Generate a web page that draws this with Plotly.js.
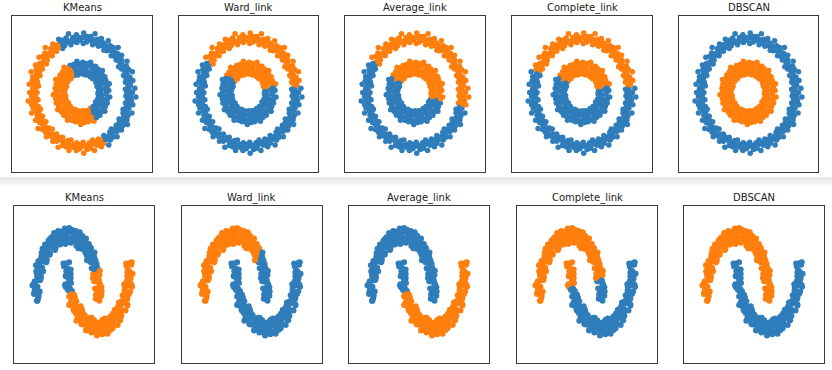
<!DOCTYPE html>
<html>
<head>
<meta charset="utf-8">
<script src="https://cdn.plot.ly/plotly-3.0.1.min.js"></script>
<style>html,body{margin:0;padding:0;background:#fff;}#chart{width:832px;height:370px;}</style>
</head>
<body>
<div id="chart"></div>
<script>
// ---------- titles ----------
const titles = ['KMeans', 'Ward_link', 'Average_link', 'Complete_link', 'DBSCAN'];

// ---------- circles dataset (outer ring, inner ring), ordered by angle ----------
const outerX = [0.92,1.03,0.89,1.08,0.94,0.99,0.89,1.04,0.90,0.98,0.85,1.03,0.88,0.95,0.81,0.91,0.75,0.92,0.77,0.81,
0.70,0.81,0.68,0.73,0.60,0.74,0.59,0.64,0.51,0.58,0.45,0.54,0.42,0.44,0.34,0.40,0.29,0.32,0.22,0.27,
0.17,0.18,0.10,0.11,0.03,0.04,-0.03,-0.04,-0.10,-0.11,-0.16,-0.18,-0.22,-0.27,-0.30,-0.32,-0.35,-0.39,-0.39,-0.47,
-0.48,-0.50,-0.51,-0.59,-0.58,-0.63,-0.60,-0.74,-0.69,-0.75,-0.70,-0.79,-0.72,-0.87,-0.81,-0.85,-0.80,-0.94,-0.86,-0.93,
-0.85,-1.03,-0.92,-1.00,-0.90,-1.01,-0.88,-1.07,-0.95,-1.00,-0.91,-1.06,-0.94,-1.02,-0.89,-1.09,-0.94,-1.02,-0.88,-0.99,
-0.84,-1.02,-0.87,-0.91,-0.80,-0.94,-0.80,-0.86,-0.73,-0.89,-0.74,-0.80,-0.66,-0.74,-0.60,-0.72,-0.59,-0.62,-0.51,-0.59,
-0.47,-0.51,-0.39,-0.48,-0.36,-0.39,-0.28,-0.32,-0.22,-0.26,-0.17,-0.17,-0.10,-0.11,-0.03,-0.04,0.03,0.04,0.10,0.11,
0.16,0.18,0.22,0.26,0.29,0.31,0.34,0.40,0.41,0.45,0.45,0.55,0.54,0.58,0.57,0.63,0.60,0.72,0.68,0.72,
0.70,0.81,0.76,0.83,0.76,0.93,0.85,0.92,0.84,0.94,0.84,1.02,0.91,0.96,0.89,1.04,0.93,1.01,0.90,1.10];
const outerY = [0.00,0.00,0.06,0.08,0.13,0.14,0.19,0.22,0.26,0.28,0.31,0.38,0.39,0.42,0.43,0.48,0.47,0.57,0.56,0.59,
0.59,0.68,0.65,0.71,0.67,0.82,0.76,0.82,0.76,0.85,0.77,0.94,0.85,0.90,0.84,0.98,0.89,0.97,0.87,1.07,
0.95,1.02,0.92,1.02,0.89,1.08,0.95,1.00,0.91,1.05,0.93,1.00,0.87,1.07,0.91,0.99,0.85,0.95,0.80,0.97,
0.82,0.87,0.75,0.88,0.74,0.80,0.67,0.82,0.67,0.72,0.59,0.66,0.52,0.64,0.50,0.53,0.43,0.50,0.38,0.42,
0.31,0.38,0.26,0.29,0.19,0.21,0.12,0.15,0.07,0.07,0.00,0.00,-0.07,-0.07,-0.13,-0.15,-0.20,-0.22,-0.25,-0.28,
-0.30,-0.37,-0.39,-0.41,-0.43,-0.50,-0.50,-0.54,-0.53,-0.65,-0.62,-0.67,-0.64,-0.72,-0.66,-0.80,-0.75,-0.79,-0.75,-0.88,
-0.81,-0.88,-0.81,-0.99,-0.89,-0.96,-0.87,-0.98,-0.86,-1.05,-0.94,-0.99,-0.91,-1.05,-0.94,-1.02,-0.90,-1.10,-0.96,-1.03,
-0.91,-1.01,-0.86,-1.05,-0.90,-0.95,-0.84,-0.98,-0.85,-0.92,-0.78,-0.95,-0.80,-0.86,-0.72,-0.81,-0.66,-0.80,-0.66,-0.70,
-0.59,-0.68,-0.55,-0.60,-0.48,-0.58,-0.45,-0.49,-0.37,-0.42,-0.30,-0.37,-0.26,-0.28,-0.19,-0.22,-0.13,-0.14,-0.06,-0.08];
// middle of the outer ring, one point per angle step
const outerMidX = [0.98,0.96,0.99,0.95,0.95,0.92,0.88,0.88,0.82,0.80,
0.75,0.69,0.67,0.60,0.55,0.49,0.42,0.38,0.30,0.24,
0.17,0.10,0.04,-0.03,-0.10,-0.17,-0.23,-0.31,-0.36,-0.43,
-0.49,-0.54,-0.62,-0.65,-0.71,-0.75,-0.78,-0.85,-0.86,-0.90,
-0.92,-0.92,-0.98,-0.96,-0.99,-0.98,-0.96,-0.99,-0.95,-0.95,
-0.92,-0.88,-0.88,-0.82,-0.80,-0.75,-0.69,-0.67,-0.60,-0.55,
-0.49,-0.42,-0.38,-0.30,-0.24,-0.17,-0.10,-0.04,0.03,0.10,
0.17,0.23,0.31,0.36,0.43,0.49,0.54,0.62,0.65,0.71,
0.75,0.78,0.85,0.86,0.90,0.92,0.92,0.98,0.96,0.99];
const outerMidY = [0.00,0.07,0.14,0.20,0.27,0.34,0.39,0.47,0.51,0.58,
0.63,0.67,0.74,0.76,0.82,0.85,0.86,0.93,0.92,0.96,
0.97,0.96,1.00,0.97,0.99,0.97,0.93,0.95,0.90,0.89,
0.85,0.80,0.79,0.72,0.69,0.63,0.56,0.53,0.45,0.40,
0.34,0.26,0.21,0.13,0.07,0.00,-0.07,-0.14,-0.20,-0.27,
-0.34,-0.39,-0.47,-0.51,-0.58,-0.63,-0.67,-0.74,-0.76,-0.82,
-0.85,-0.86,-0.93,-0.92,-0.96,-0.97,-0.96,-1.00,-0.97,-0.99,
-0.97,-0.93,-0.95,-0.90,-0.89,-0.85,-0.80,-0.79,-0.72,-0.69,
-0.63,-0.56,-0.53,-0.45,-0.40,-0.34,-0.26,-0.21,-0.13,-0.07];
const innerX = [0.38,0.50,0.34,0.55,0.41,0.47,0.35,0.52,0.38,0.56,0.31,0.46,0.39,0.49,0.34,0.44,0.29,0.47,0.33,0.38,
0.28,0.41,0.29,0.42,0.22,0.33,0.26,0.33,0.21,0.28,0.17,0.28,0.18,0.21,0.14,0.20,0.12,0.18,0.08,0.12,
0.07,0.09,0.04,0.05,0.01,0.02,-0.01,-0.02,-0.04,-0.06,-0.07,-0.10,-0.08,-0.12,-0.13,-0.17,-0.14,-0.19,-0.15,-0.24,
-0.21,-0.24,-0.20,-0.30,-0.25,-0.36,-0.22,-0.33,-0.31,-0.39,-0.29,-0.38,-0.28,-0.44,-0.35,-0.40,-0.32,-0.47,-0.37,-0.53,
-0.31,-0.46,-0.41,-0.52,-0.37,-0.49,-0.34,-0.54,-0.41,-0.47,-0.36,-0.53,-0.40,-0.58,-0.33,-0.49,-0.42,-0.53,-0.37,-0.48,
-0.32,-0.52,-0.37,-0.43,-0.32,-0.47,-0.34,-0.49,-0.27,-0.40,-0.33,-0.41,-0.27,-0.36,-0.23,-0.37,-0.25,-0.29,-0.20,-0.30,
-0.20,-0.29,-0.14,-0.21,-0.16,-0.20,-0.12,-0.15,-0.08,-0.13,-0.07,-0.08,-0.04,-0.06,-0.01,-0.02,0.01,0.02,0.05,0.06,
0.07,0.09,0.08,0.13,0.13,0.15,0.14,0.20,0.18,0.25,0.17,0.25,0.24,0.30,0.23,0.31,0.23,0.37,0.29,0.34,
0.28,0.41,0.32,0.47,0.28,0.42,0.38,0.48,0.35,0.46,0.32,0.52,0.39,0.45,0.35,0.52,0.40,0.57,0.33,0.49];
const innerY = [0.00,0.00,0.02,0.04,0.06,0.07,0.07,0.11,0.11,0.16,0.11,0.17,0.18,0.22,0.18,0.23,0.18,0.29,0.24,0.28,
0.23,0.34,0.28,0.40,0.25,0.36,0.34,0.43,0.32,0.41,0.29,0.48,0.37,0.42,0.33,0.49,0.38,0.55,0.32,0.48,
0.42,0.53,0.38,0.50,0.34,0.55,0.41,0.47,0.36,0.53,0.39,0.57,0.32,0.48,0.41,0.51,0.35,0.46,0.31,0.49,
0.36,0.41,0.30,0.44,0.32,0.46,0.25,0.36,0.30,0.38,0.24,0.32,0.20,0.32,0.22,0.25,0.17,0.25,0.16,0.24,
0.11,0.17,0.12,0.15,0.08,0.10,0.05,0.08,0.03,0.03,0.00,0.00,-0.03,-0.04,-0.05,-0.07,-0.09,-0.11,-0.10,-0.14,
-0.12,-0.19,-0.17,-0.19,-0.17,-0.25,-0.21,-0.31,-0.19,-0.29,-0.28,-0.35,-0.26,-0.35,-0.25,-0.41,-0.32,-0.37,-0.30,-0.44,
-0.35,-0.50,-0.30,-0.44,-0.40,-0.50,-0.36,-0.48,-0.33,-0.53,-0.40,-0.46,-0.36,-0.53,-0.40,-0.58,-0.33,-0.49,-0.43,-0.54,
-0.37,-0.49,-0.33,-0.53,-0.39,-0.45,-0.33,-0.49,-0.36,-0.52,-0.29,-0.42,-0.36,-0.45,-0.30,-0.39,-0.25,-0.41,-0.28,-0.33,
-0.23,-0.34,-0.24,-0.34,-0.17,-0.26,-0.20,-0.25,-0.15,-0.20,-0.12,-0.19,-0.11,-0.13,-0.07,-0.11,-0.06,-0.08,-0.02,-0.03];

// cluster labels of circles, one char per angle step: 1 = orange, 0 = blue
const circleOuterLabels = [
  '0000000000 0000000000 0000000000 1111111111 1111111111 1111111111 1111111111 1111100000 0000000000', // KMeans
  '0011111111 1111111111 1111111111 1111111000 0000000000 0000000000 0000000000 0000000000 0000000000', // Ward
  '1111111111 1111111111 1111111111 1111111000 0000000000 0000000000 0000000000 0000000000 0000000111', // Average
  '0011111111 1111111111 1111111111 1111111111 0000000000 0000000000 0000000000 0000000000 0000000000', // Complete
  '0000000000 0000000000 0000000000 0000000000 0000000000 0000000000 0000000000 0000000000 0000000000'  // DBSCAN
];
const circleInnerLabels = [
  '0000000000 0000000000 0000000000 1111111111 1111111111 1111111111 1111111111 1111110000 0000000000',
  '0000111111 1111111111 1111111111 1111111000 0000000000 0000000000 0000000000 0000000000 0000000000',
  '1111111111 1111111111 1111111111 1111111100 0000000000 0000000000 0000000000 0000000000 0000000111',
  '0000111111 1111111111 1111111111 1111111100 0000000000 0000000000 0000000000 0000000000 0000000000',
  '1111111111 1111111111 1111111111 1111111111 1111111111 1111111111 1111111111 1111111111 1111111111'
];

// ---------- moons dataset (upper moon, lower moon), ordered along each moon ----------
const upperX = [1.03,0.95,1.09,0.92,1.04,1.01,1.05,0.89,0.97,0.94,1.09,0.98,1.03,0.90,0.95,
0.97,0.89,1.03,0.83,0.95,0.92,0.94,0.78,0.86,0.81,0.96,0.85,0.88,0.75,0.78,
0.80,0.76,0.86,0.64,0.76,0.68,0.73,0.57,0.65,0.58,0.73,0.62,0.63,0.50,0.53,
0.53,0.45,0.59,0.36,0.48,0.45,0.44,0.28,0.36,0.27,0.42,0.31,0.31,0.18,0.21,
0.20,0.12,0.26,0.03,0.15,0.12,0.10,-0.07,0.02,-0.08,0.08,-0.04,-0.04,-0.17,-0.14,
-0.14,-0.22,-0.08,-0.32,-0.20,-0.23,-0.25,-0.41,-0.33,-0.42,-0.27,-0.38,-0.37,-0.50,-0.47,
-0.47,-0.55,-0.41,-0.64,-0.52,-0.55,-0.56,-0.72,-0.64,-0.71,-0.56,-0.67,-0.65,-0.78,-0.75,
-0.74,-0.82,-0.68,-0.89,-0.77,-0.80,-0.79,-0.95,-0.87,-0.92,-0.77,-0.88,-0.84,-0.97,-0.94,
-0.91,-0.99,-0.85,-1.04,-0.92,-0.95,-0.92,-1.08,-1.00,-1.03,-0.88,-0.99,-0.93,-1.06,-1.03,-0.97,-1.05,-0.91];
const upperY = [-0.06,0.08,0.02,0.04,0.17,-0.04,0.21,0.14,0.06,0.33,0.16,0.25,0.19,0.26,0.27,
0.33,0.42,0.36,0.38,0.40,0.30,0.54,0.47,0.47,0.65,0.48,0.57,0.50,0.57,0.65,
0.58,0.66,0.66,0.67,0.80,0.72,0.81,0.74,0.66,0.91,0.74,0.83,0.74,0.81,0.89,
0.81,0.95,0.89,0.87,1.00,0.79,1.00,0.93,0.85,1.07,0.90,0.99,0.88,0.95,1.03,
0.93,1.07,1.01,0.97,1.10,0.89,1.07,1.00,0.92,1.12,0.95,1.04,0.91,0.98,1.06,
0.93,1.07,1.01,0.94,1.07,0.86,1.02,0.95,0.87,1.05,0.88,0.97,0.81,0.88,0.96,
0.81,0.95,0.89,0.80,0.93,0.72,0.86,0.79,0.71,0.86,0.69,0.78,0.61,0.68,0.76,
0.58,0.72,0.66,0.56,0.69,0.48,0.60,0.53,0.45,0.59,0.42,0.51,0.32,0.39,0.47,
0.28,0.42,0.36,0.25,0.38,0.17,0.28,0.21,0.13,0.26,0.09,0.18,-0.02,0.05,0.13,-0.06,0.08,0.02];
// one extra point per step along the upper moon
const upperX2 = [1.10,0.91,1.01,0.86,1.01,1.04,0.82,0.90,0.73,0.86,
0.87,0.63,0.69,0.50,0.61,0.60,0.35,0.40,0.19,0.29,
0.27,0.02,0.06,-0.16,-0.06,-0.07,-0.33,-0.29,-0.50,-0.39,
-0.40,-0.65,-0.60,-0.79,-0.67,-0.67,-0.90,-0.83,-1.00,-0.86,
-0.84,-1.05,-0.96,-1.11,-0.95,-0.90];
const upperY2 = [0.09,-0.03,0.27,0.26,0.15,0.43,0.31,0.60,0.58,0.46,
0.73,0.60,0.87,0.84,0.70,0.96,0.80,1.06,1.00,0.84,
1.08,0.90,1.13,1.05,0.87,1.08,0.87,1.08,0.98,0.77,
0.96,0.73,0.92,0.79,0.57,0.73,0.49,0.66,0.52,0.28,
0.43,0.18,0.34,0.19,-0.06,0.09];
const lowerX = [0.06,-0.10,-0.02,-0.04,0.11,0.00,0.08,-0.05,-0.02,0.05,-0.03,0.11,-0.04,0.08,0.05,
0.12,-0.04,0.04,0.08,0.15,0.09,0.19,0.06,0.13,0.18,0.10,0.24,0.11,0.23,0.20,
0.29,0.13,0.21,0.24,0.39,0.28,0.40,0.27,0.30,0.41,0.33,0.47,0.36,0.48,0.45,
0.56,0.40,0.48,0.52,0.67,0.56,0.70,0.57,0.60,0.72,0.64,0.78,0.68,0.80,0.77,
0.89,0.73,0.81,0.86,1.01,0.90,1.04,0.91,0.94,1.07,0.99,1.13,1.03,1.15,1.12,
1.23,1.07,1.15,1.20,1.35,1.24,1.38,1.25,1.28,1.41,1.33,1.47,1.36,1.48,1.45,
1.56,1.40,1.48,1.52,1.67,1.56,1.69,1.56,1.59,1.70,1.62,1.76,1.64,1.76,1.73,
1.83,1.67,1.75,1.77,1.92,1.81,1.92,1.79,1.82,1.91,1.83,1.97,1.83,1.95,1.92,
2.00,1.84,1.92,1.92,2.07,1.96,2.05,1.92,1.95,2.02,1.94,2.08,1.92,2.04,2.01,2.06,1.90,1.98];
const lowerY = [0.57,0.50,0.42,0.55,0.38,0.47,0.27,0.34,0.42,0.23,0.37,0.31,0.19,0.32,0.11,
0.23,0.16,0.17,0.14,0.10,0.13,-0.06,0.01,-0.01,-0.09,0.05,-0.01,-0.12,0.01,-0.20,
-0.07,-0.14,-0.22,-0.08,-0.25,-0.16,-0.33,-0.26,-0.18,-0.35,-0.21,-0.27,-0.36,-0.23,-0.44,
-0.30,-0.37,-0.45,-0.28,-0.45,-0.36,-0.52,-0.45,-0.37,-0.51,-0.37,-0.43,-0.50,-0.37,-0.58,
-0.42,-0.49,-0.57,-0.38,-0.55,-0.46,-0.59,-0.52,-0.44,-0.56,-0.42,-0.48,-0.53,-0.40,-0.61,
-0.42,-0.49,-0.57,-0.35,-0.52,-0.43,-0.54,-0.47,-0.39,-0.49,-0.35,-0.41,-0.43,-0.30,-0.51,
-0.30,-0.37,-0.45,-0.21,-0.38,-0.29,-0.38,-0.31,-0.23,-0.30,-0.16,-0.22,-0.23,-0.10,-0.31,
-0.07,-0.14,-0.22,0.03,-0.14,-0.05,-0.12,-0.05,0.03,-0.03,0.11,0.05,0.06,0.19,-0.02,
0.23,0.16,0.08,0.34,0.17,0.26,0.20,0.27,0.35,0.30,0.44,0.38,0.40,0.53,0.32,0.57,0.50,0.42];
// one extra point per step along the lower moon
const lowerX2 = [-0.12,0.05,0.11,-0.07,0.06,-0.06,0.02,0.21,0.06,0.21,
0.11,0.33,0.43,0.29,0.46,0.38,0.61,0.73,0.60,0.78,
0.71,0.95,1.07,0.95,1.13,1.05,1.29,1.41,1.29,1.46,
1.38,1.61,1.72,1.58,1.74,1.65,1.86,1.95,1.79,1.93,
1.82,2.01,2.08,1.90,2.02,1.88];
const lowerY2 = [0.55,0.30,0.45,0.19,0.35,0.21,0.12,0.03,-0.13,0.04,
-0.09,-0.33,-0.15,-0.39,-0.20,-0.32,-0.53,-0.34,-0.55,-0.34,
-0.44,-0.63,-0.41,-0.60,-0.37,-0.44,-0.60,-0.36,-0.53,-0.27,
-0.32,-0.46,-0.20,-0.34,-0.07,-0.09,-0.22,0.06,-0.07,0.22,
0.21,0.09,0.38,0.26,0.56,0.55];

// cluster labels of moons, one char per step along the moon: 1 = orange, 0 = blue
const moonUpperLabels = [
  '1111111000 0000000000 0000000000 0000000000 000000', // KMeans
  '0000000000 0111111111 1111111111 1111111111 111111', // Ward
  '0000000000 0000000000 0000000000 0000000000 000000', // Average
  '0000011111 1111111111 1111111111 1111111111 111111', // Complete
  '1111111111 1111111111 1111111111 1111111111 111111'  // DBSCAN
];
const moonLowerLabels = [
  '0000000111 1111111111 1111111111 1111111111 111111',
  '0000000000 0000000000 0000000000 0000000000 000000',
  '0000000111 1111111111 1111111111 1111111111 111111',
  '1111110000 0000000000 0000000000 0000000000 000000',
  '0000000000 0000000000 0000000000 0000000000 000000'
];

// ---------- drawing ----------
const BLUE = '#2f7dba', ORANGE = '#ff7f0e';
const W = 832, H = 370;
function colorsFrom(str, per, n) {
  const s = str.replace(/ /g, '');
  const out = [];
  for (let i = 0; i < n; i++) out.push(s[Math.floor(i / per)] === '1' ? ORANGE : BLUE);
  return out;
}
const topCols = [[12,152],[179,318],[345,485],[512,652],[679,818]];
const botCols = [[14,154],[182,322],[349,489],[517,657],[684,824]];
const topRows = [16,172], botRows = [206,363];

const traces = [];
const layout = {
  width: W, height: H, margin: {l:0, r:0, t:0, b:0},
  paper_bgcolor: '#fff', plot_bgcolor: '#fff', showlegend: false,
  annotations: [], shapes: []
};
function axisPair(idx, cols, rows, xr, yr) {
  const s = idx === 0 ? '' : String(idx + 1);
  const common = {showline:true, mirror:true, linecolor:'#3a3a3a', linewidth:1,
    showticklabels:false, ticks:'', showgrid:false, zeroline:false, fixedrange:true};
  layout['xaxis' + s] = Object.assign({}, common, {domain:[cols[0]/W, cols[1]/W], range:xr, anchor:'y' + s});
  layout['yaxis' + s] = Object.assign({}, common, {domain:[1 - rows[1]/H, 1 - rows[0]/H], range:yr, anchor:'x' + s});
  return s;
}
for (let p = 0; p < 5; p++) {
  // circles row
  let s = axisPair(p, topCols[p], topRows, [-1.42, 1.43], [-1.44, 1.39]);
  traces.push({
    type:'scatter', mode:'markers', xaxis:'x' + s, yaxis:'y' + s,
    x: outerX.concat(outerMidX, innerX), y: outerY.concat(outerMidY, innerY),
    marker:{size:5.5, line:{width:0}, color: colorsFrom(circleOuterLabels[p], 2, outerX.length)
      .concat(colorsFrom(circleOuterLabels[p], 1, outerMidX.length), colorsFrom(circleInnerLabels[p], 2, innerX.length))},
    hoverinfo:'skip'
  });
  layout.annotations.push({xref:'paper', yref:'paper', x:(topCols[p][0] + topCols[p][1]) / 2 / W, y:1 - 7.5/H,
    xanchor:'center', yanchor:'middle', showarrow:false, text:titles[p],
    font:{family:'DejaVu Sans, sans-serif', size:10, color:'#222'}});
  // moons row
  s = axisPair(p + 5, botCols[p], botRows, [-1.70, 2.77], [-1.08, 1.49]);
  traces.push({
    type:'scatter', mode:'markers', xaxis:'x' + s, yaxis:'y' + s,
    x: upperX.concat(upperX2, lowerX, lowerX2), y: upperY.concat(upperY2, lowerY, lowerY2),
    marker:{size:6, line:{width:0}, color: colorsFrom(moonUpperLabels[p], 3, upperX.length)
      .concat(colorsFrom(moonUpperLabels[p], 1, upperX2.length),
              colorsFrom(moonLowerLabels[p], 3, lowerX.length),
              colorsFrom(moonLowerLabels[p], 1, lowerX2.length))},
    hoverinfo:'skip'
  });
  layout.annotations.push({xref:'paper', yref:'paper', x:(botCols[p][0] + botCols[p][1]) / 2 / W, y:1 - 197.5/H,
    xanchor:'center', yanchor:'middle', showarrow:false, text:titles[p],
    font:{family:'DejaVu Sans, sans-serif', size:10, color:'#222'}});
}
// light grey band between the two stacked figures
[[177,180,'#e8e8e8'],[180,183,'#efefef'],[183,186,'#f7f7f7']].forEach(function (b) {
  layout.shapes.push({type:'rect', xref:'paper', yref:'paper', x0:0, x1:1, y0:1 - b[1]/H, y1:1 - b[0]/H,
    fillcolor:b[2], line:{width:0}, layer:'below'});
});
Plotly.newPlot('chart', traces, layout, {displayModeBar:false, staticPlot:true});
</script>
</body>
</html>
